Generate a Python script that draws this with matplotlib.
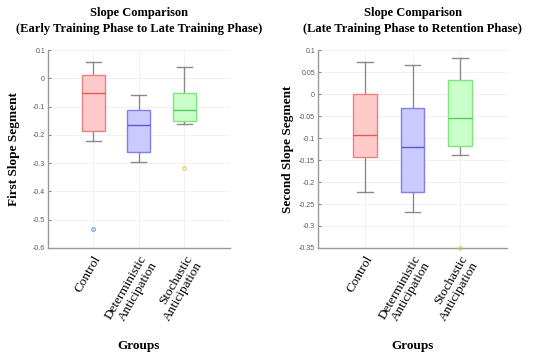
import matplotlib.pyplot as plt
import numpy as np

plt.rcParams.update({
    'font.family': 'Liberation Serif',
    'figure.facecolor': 'white',
})

GROUPS = ['Control', 'Deterministic\nAnticipation', 'Stochastic\nAnticipation']

# first slope segment: (whislo, q1, med, q3, whishi)
FIRST_WHISLO = [-0.220, -0.297, -0.163]
FIRST_Q1 = [-0.187, -0.261, -0.150]
FIRST_MED = [-0.053, -0.165, -0.113]
FIRST_Q3 = [0.013, -0.113, -0.050]
FIRST_WHISHI = [0.058, -0.060, 0.041]
FIRST_FLIERS = [[-0.532], [], [-0.318]]

# second slope segment
SECOND_WHISLO = [-0.223, -0.268, -0.139]
SECOND_Q1 = [-0.142, -0.222, -0.117]
SECOND_MED = [-0.093, -0.120, -0.055]
SECOND_Q3 = [0.000, -0.031, 0.033]
SECOND_WHISHI = [0.074, 0.067, 0.082]
SECOND_FLIERS = [[], [], [-0.350]]

FIRST_TICKS = [-0.6, -0.5, -0.4, -0.3, -0.2, -0.1, 0, 0.1]
SECOND_TICKS = [-0.35, -0.3, -0.25, -0.2, -0.15, -0.1, -0.05, 0, 0.05, 0.1]

FILL = ['#ffcaca', '#cacaff', '#caffca']
EDGE = ['#ef7f7f', '#7f7fef', '#7fe57f']
MED_C = ['#e25757', '#5a5ad0', '#55cc55']
FLIER_C = ['#4a8fd6', '#4a8fd6', '#e2c455']


def draw_panel(ax, whislo, q1, med, q3, whishi, fliers, yticks, ylabel, title,
               ylab_x):
    stats = []
    for i in range(len(GROUPS)):
        stats.append(dict(whislo=whislo[i], q1=q1[i], med=med[i],
                          q3=q3[i], whishi=whishi[i], fliers=fliers[i]))
    pos = np.arange(1, len(GROUPS) + 1)
    bp = ax.bxp(stats, positions=pos, widths=0.5, capwidths=0.33,
                patch_artist=True, showfliers=False,
                whiskerprops=dict(color='#8a8a8a', lw=1.0),
                capprops=dict(color='#8a8a8a', lw=1.0))
    for i, box in enumerate(bp['boxes']):
        box.set_facecolor(FILL[i])
        box.set_edgecolor(EDGE[i])
        box.set_linewidth(1.0)
        box.set_zorder(3)
        bp['medians'][i].set_color(MED_C[i])
        bp['medians'][i].set_linewidth(1.0)
        bp['medians'][i].set_zorder(4)
        if fliers[i]:
            ax.plot([pos[i]] * len(fliers[i]), fliers[i], 'o', ms=2.6,
                    mfc='none', mec=FLIER_C[i], mew=0.9, alpha=0.8,
                    clip_on=False, zorder=5)

    ax.set_xlim(0, 4)
    ax.set_ylim(yticks[0], yticks[-1])
    ax.set_yticks(yticks)
    ax.set_yticklabels(['%g' % t for t in yticks], family='Liberation Sans',
                       fontsize=5, color='#555555')
    ax.set_xticks(pos)
    ax.set_xticklabels(GROUPS, rotation=60, ha='right', va='top',
                       rotation_mode='anchor', fontsize=9.5, linespacing=1.0)
    ax.tick_params(axis='y', length=2, direction='in', pad=2, color='#888888')
    ax.tick_params(axis='x', length=0, pad=4)
    ax.grid(True, color='#efefef', lw=0.6)
    ax.set_axisbelow(True)
    for s in ['top', 'right']:
        ax.spines[s].set_visible(False)
    for s in ['left', 'bottom']:
        ax.spines[s].set_color('#999999')
        ax.spines[s].set_linewidth(1.0)
    ax.set_ylabel(ylabel, fontsize=9.5, fontweight='bold')
    ax.yaxis.set_label_coords(ylab_x, 0.5)
    ax.set_xlabel('Groups', fontsize=9.5, fontweight='bold', labelpad=9)
    ax.set_title(title, fontsize=9, fontweight='bold', linespacing=1.45, pad=13)


fig = plt.figure(figsize=(5.5, 3.53), dpi=100)
ax1 = fig.add_axes([0.087, 0.2975, 0.331, 0.5605])
ax2 = fig.add_axes([0.578, 0.2975, 0.344, 0.5605])

draw_panel(ax1, FIRST_WHISLO, FIRST_Q1, FIRST_MED, FIRST_Q3, FIRST_WHISHI,
           FIRST_FLIERS, FIRST_TICKS, 'First Slope Segment',
           'Slope Comparison\n(Early Training Phase to Late Training Phase)',
           -0.155)
draw_panel(ax2, SECOND_WHISLO, SECOND_Q1, SECOND_MED, SECOND_Q3, SECOND_WHISHI,
           SECOND_FLIERS, SECOND_TICKS, 'Second Slope Segment',
           'Slope Comparison\n(Late Training Phase to Retention Phase)',
           -0.125)

fig.savefig('out.png', dpi=100)
